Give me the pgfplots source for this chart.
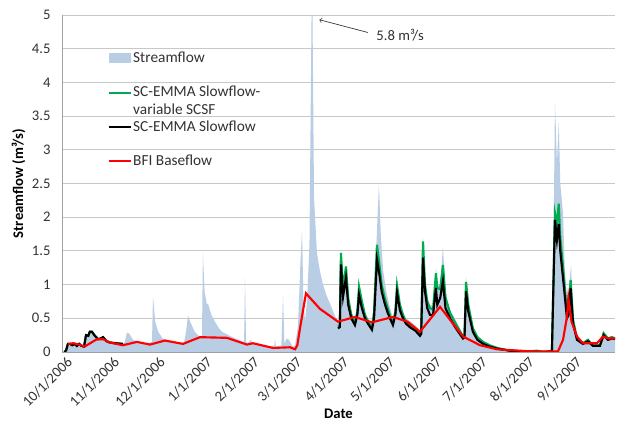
\documentclass[border=0pt]{standalone}
\usepackage{pgfplots}
\pgfplotsset{compat=1.18}
\usepackage{fontspec}
\setmainfont{Carlito}
\usetikzlibrary{calc}
\definecolor{sfblue}{RGB}{185,205,229}
\definecolor{emgreen}{RGB}{0,170,80}
\definecolor{gridgray}{RGB}{200,200,200}
\definecolor{axgray}{RGB}{160,160,160}
\definecolor{txtgray}{RGB}{50,50,50}
\newcommand{\lgtext}[1]{\raisebox{-0.33em}[0pt][0pt]{#1}}
\begin{document}
\begin{tikzpicture}
\begin{axis}[name=ax, scale only axis, width=414.75pt, height=252.75pt,
  xmin=-1.3, xmax=362.5, ymin=0, ymax=5,
  axis x line=bottom, axis y line=left,
  axis line style={draw=axgray, -},
  tick style={draw=none},
  ytick={0,0.5,1,1.5,2,2.5,3,3.5,4,4.5,5},
  ymajorgrids, grid style={draw=gridgray, line width=0.6pt},
  xtick={0,31,61,92,123,151,182,212,243,273,304,335},
  xticklabels={10/1/2006,11/1/2006,12/1/2006,1/1/2007,2/1/2007,3/1/2007,4/1/2007,5/1/2007,6/1/2007,7/1/2007,8/1/2007,9/1/2007},
  xticklabel style={rotate=45, anchor=north east, xshift=4pt, yshift=2pt, text=txtgray, font=\fontsize{11}{13}\selectfont},
  yticklabel style={text=txtgray, xshift=-3pt, font=\fontsize{11}{13}\selectfont},
  /pgf/number format/assume math mode=true,
  xlabel={\textbf{Date}}, xlabel style={yshift=8pt, font=\fontsize{11}{13}\selectfont},
  ylabel={\textbf{Streamflow (m³/s)}}, ylabel style={yshift=-2pt, font=\fontsize{11}{13}\selectfont},
  unbounded coords=jump,
  legend style={at={(rel axis cs:0.075,0.887)}, anchor=north west, draw=none, fill=none,
    inner ysep=2pt, nodes={inner sep=1pt}, row sep=22.25pt, text=txtgray, font=\fontsize{11.5}{13}\selectfont},
  legend cell align=left,
]
% Streamflow
\addplot[fill=sfblue, draw=none,
  legend image code/.code={\fill[sfblue, overlay] (0pt,-3.75pt) rectangle (16.5pt,3.75pt); \path (0pt,0pt) -- (16.5pt,0pt);}] table {
x y
0 0
1.3 0.02
2.6 0.12
5 0.12
7 0.1
9 0.13
11 0.1
13 0.09
15 0.22
17 0.28
18.4 0.31
20 0.26
22.4 0.2
24 0.2
25.7 0.23
28 0.18
30.3 0.15
34 0.13
38.8 0.12
40 0.15
41.4 0.29
43 0.27
45.4 0.18
50 0.14
54 0.12
57.9 0.15
58.6 0.82
60 0.45
62 0.3
65 0.2
70 0.16
75 0.14
79 0.14
80.3 0.3
81.6 0.54
83 0.45
86 0.3
89.5 0.22
90.8 0.24
91.4 1.47
92.5 0.9
94 0.7
94.7 0.72
97 0.55
99.3 0.45
102 0.35
104 0.3
109 0.24
113 0.2
116 0.17
118.5 0.15
119.1 1.1
119.8 0.15
121 0.13
123 0.18
124 0.12
129 0.1
135 0.08
138.5 0.1
138.8 0.2
139.5 0.08
143 0.1
144.1 0.83
145 0.12
146.5 0.2
148 0.18
150.5 0.08
152 0.1
154 0.4
155.5 1.3
156.6 1.79
157.5 0.8
158.6 0.45
160 0.8
161.5 1.6
163.2 5.8
164.5 2.3
166.4 1.47
168.4 1.2
170.4 1.0
173 0.82
175 0.72
178 0.55
180.3 0.45
181.5 0.47
182.2 1.5
183.6 1.0
185.5 1.3
187 0.85
189 0.6
191.4 0.48
193 0.65
194.1 1.0
196 0.8
198 0.6
200 0.5
202.6 0.42
204 0.7
205.9 1.8
207.2 2.48
208.5 1.7
210 1.2
212 0.9
214 0.7
216.4 0.5
218 0.65
219.1 1.05
221 0.75
223 0.6
225 0.5
228 0.45
231 0.4
234.2 0.32
235 0.35
236.2 1.7
237.5 1.1
239 0.8
240.8 0.7
242.8 0.7
244.7 1.25
245.6 1.0
247.5 1.0
249.3 1.56
251 0.9
254 0.62
257 0.5
260 0.37
262.5 0.26
263.5 0.28
264.5 1.12
266 0.75
269 0.38
272 0.24
275.7 0.17
280 0.11
285 0.07
293 0.03
300 0.02
310 0.015
316 0.01
321 0.03
322 1.5
323 3.7
324.3 2.8
325.5 3.4
326.5 2.5
328.3 2.06
329.5 1.2
330.9 0.82
332 0.9
333.6 1.29
334.9 0.5
337.5 0.22
341.4 0.15
344.7 0.2
348 0.12
352.6 0.12
355 0.3
357.9 0.22
360.5 0.24
362.5 0.22
} \closedcycle;
\addlegendentry{\lgtext{Streamflow}}
% SC-EMMA variable SCSF (green)
\addplot[emgreen, line width=1.6pt,
  legend image code/.code={\draw[emgreen, line width=1.6pt, overlay] (0pt,0pt) -- (16.5pt,0pt); \path (0pt,0pt) -- (16.5pt,0pt);}] table {
x y
0 0
1.3 0.02
2.6 0.12
4 0.12
5.5 0.1
7 0.12
8.5 0.09
10 0.12
11.5 0.09
13.2 0.08
14.5 0.25
16 0.24
17 0.3
18.4 0.3
20 0.25
22.4 0.19
24 0.2
25.7 0.22
28 0.16
30.3 0.14
34 0.13
38.8 0.12
39 nan
180.3 0.38
181.5 0.4
182.2 1.47
183.6 0.93
185.5 1.27
187 0.8
189 0.55
191.4 0.43
193 0.6
194.1 0.97
196 0.75
198 0.55
200 0.45
202.6 0.36
204 0.6
205.9 1.59
207.5 1.3
209 1.0
211 0.8
213 0.65
215 0.5
216.4 0.43
218 0.6
219.1 0.99
221 0.7
223 0.55
225 0.45
228 0.4
231 0.35
234.2 0.27
235 0.3
236.2 1.64
237.5 1.0
239 0.75
240.8 0.65
242.8 0.63
244.7 1.17
245.6 0.95
247.5 0.93
249.3 1.29
251 0.8
254 0.58
257 0.45
260 0.33
262.5 0.23
263.5 0.25
264.5 1.04
266 0.7
269 0.35
272 0.22
275.7 0.15
280 0.1
285 0.06
293 0.02
300 0.01
307 0.01
311 0.02
316 0.0
321 0.02
323 2.06
324.3 1.9
325.5 2.2
326.5 1.7
328.3 1.27
330.9 0.57
332.2 0.67
333.3 1.07
334.9 0.48
337.5 0.2
341.4 0.13
344.7 0.18
348 0.1
352.6 0.1
355 0.28
357.9 0.2
360.5 0.22
362.5 0.2
};
\addlegendentry{\lgtext{\vtop{\hbox{SC-EMMA Slowflow-}\hbox{variable SCSF}}}}
% SC-EMMA Slowflow (black)
\addplot[black, line width=1.6pt,
  legend image code/.code={\draw[black, line width=1.6pt, overlay] (0pt,0pt) -- (16.5pt,0pt); \path (0pt,0pt) -- (16.5pt,0pt);}] table {
x y
0.5 0
1.5 0.03
2.6 0.12
4 0.12
5.5 0.1
7 0.12
8.5 0.09
10 0.12
11.5 0.09
13.2 0.08
14.5 0.25
16 0.24
17 0.3
18.4 0.3
20 0.25
22.4 0.19
24 0.2
25.7 0.22
28 0.16
30.3 0.14
34 0.13
38.8 0.12
39 nan
180.3 0.35
181.5 0.37
182.2 1.3
183.6 0.82
185.5 1.1
187 0.7
189 0.5
191.4 0.4
193 0.55
194.1 0.85
196 0.65
198 0.5
200 0.42
202.6 0.33
204 0.5
205.9 1.37
207.5 1.15
209 0.9
211 0.72
213 0.58
215 0.47
216.4 0.4
218 0.55
219.1 0.88
221 0.62
223 0.5
225 0.42
228 0.36
231 0.32
234.2 0.24
235 0.27
236.2 1.4
237.5 0.9
239 0.65
240.8 0.55
242.8 0.55
244.7 0.95
245.6 0.7
247.5 0.8
249.3 1.05
251 0.65
254 0.5
257 0.38
260 0.28
262.5 0.2
263.5 0.22
264.5 0.9
266 0.6
269 0.3
272 0.18
275.7 0.12
280 0.08
285 0.05
293 0.02
300 0.01
316 0.0
321 0.01
323 1.96
324.3 1.66
325.5 1.9
326.5 1.5
328.3 1.1
330.9 0.5
332 0.55
333.3 0.95
334.9 0.42
337.5 0.18
341.4 0.12
344.7 0.16
348 0.09
352.6 0.09
355 0.25
357.9 0.18
360.5 0.2
362.5 0.19
};
\addlegendentry{\lgtext{SC-EMMA Slowflow}}
% BFI Baseflow (red)
\addplot[red, line width=1.6pt,
  legend image code/.code={\draw[red, line width=1.6pt, overlay] (0pt,0pt) -- (16.5pt,0pt); \path (0pt,0pt) -- (16.5pt,0pt);}] table {
x y
2.6 0.12
6 0.13
10 0.11
13.5 0.08
21.7 0.19
25.7 0.19
30.3 0.14
38.8 0.1
48 0.15
56.6 0.11
66.4 0.17
78.3 0.12
89.5 0.22
107.2 0.21
120.4 0.11
124.3 0.13
137.5 0.06
148.7 0.07
152 0.04
153.5 0.1
156 0.45
159.2 0.87
168.4 0.64
180.3 0.45
191.4 0.52
202.6 0.44
216.4 0.52
226 0.45
234.2 0.3
247.4 0.67
253.9 0.48
262.5 0.23
273.7 0.1
284.9 0.04
306.6 0.01
325 0.01
328.3 0.18
330.9 0.52
331.8 0.8
333.9 0.45
337.5 0.23
341.4 0.13
350.7 0.13
354.6 0.23
358.5 0.2
362.5 0.2
};
\addlegendentry{\lgtext{BFI Baseflow}}
\draw[txtgray, line width=0.5pt, ->] (axis cs:200,4.74) -- (axis cs:168,4.93);
\node[anchor=west, text=txtgray, inner sep=1pt, font=\fontsize{11}{13}\selectfont] at (axis cs:204.5,4.70) {5.8 m³/s};
\end{axis}
\pgfresetboundingbox
\path ($(ax.south west)+(-46.5pt,-51.75pt)$) rectangle ($(ax.north east)+(1.5pt,11.25pt)$);
\end{tikzpicture}
\end{document}
